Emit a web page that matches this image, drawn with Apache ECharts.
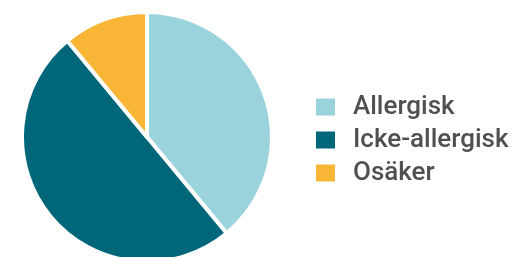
<!DOCTYPE html>
<html>
<head>
<meta charset="utf-8">
<script src="https://cdn.jsdelivr.net/npm/echarts@6/dist/echarts.min.js"></script>
<style>
  html, body { margin: 0; padding: 0; background: #ffffff; }
  #chart { width: 515px; height: 257px; }
</style>
</head>
<body>
<div id="chart"></div>
<script>
// kategorier och andelar (%)
var categories = ['Allergisk', 'Icke-allergisk', 'Osäker'];
var shares = [39, 50, 11];
var colors = ['#9bd3dd', '#00677b', '#f9b535'];

var chart = echarts.init(document.getElementById('chart'));

var pieData = categories.map(function (name, i) {
  return { name: name, value: shares[i], itemStyle: { color: colors[i] } };
});

chart.setOption({
  animation: false,
  legend: {
    orient: 'vertical',
    left: 314,
    top: 94,
    padding: 0,
    itemWidth: 21,
    itemHeight: 19,
    itemGap: 7,
    icon: 'rect',
    data: categories,
    textStyle: {
      fontFamily: 'Roboto, Liberation Sans, Arial, sans-serif',
      fontWeight: 500,
      fontSize: 26,
      color: '#505050',
      padding: [0, 0, 0, 12]
    }
  },
  series: [
    {
      name: 'Andel',
      type: 'pie',
      center: [147, 137],
      radius: 125,
      startAngle: 90,
      clockwise: true,
      label: { show: false },
      labelLine: { show: false },
      emphasis: { disabled: true },
      itemStyle: {
        borderColor: '#ffffff',
        borderWidth: 4
      },
      data: pieData
    }
  ]
});
</script>
</body>
</html>
